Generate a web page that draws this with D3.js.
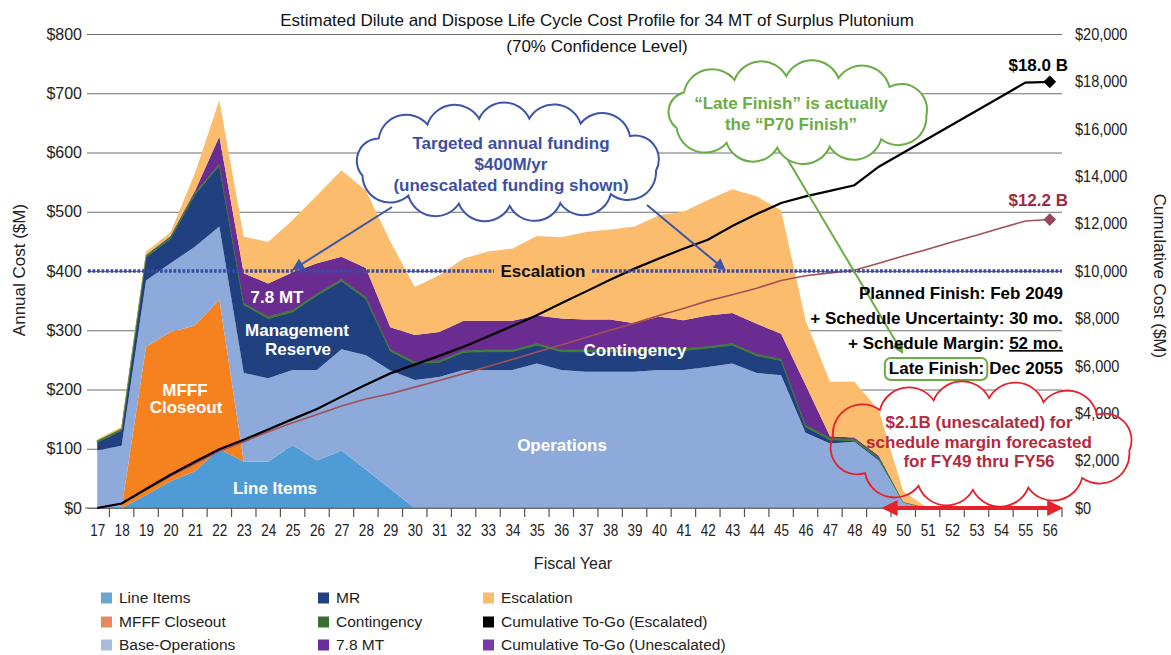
<!DOCTYPE html>
<html><head><meta charset="utf-8">
<script src="https://cdn.jsdelivr.net/npm/d3@7"></script>
<style>
body{margin:0;background:#fff;}
svg text{font-family:"Liberation Sans",Arial,Helvetica,sans-serif;}
</style></head><body>
<svg id="c" width="1171" height="655"></svg>
<script>
// ---------------- DATA ----------------
const years = ["17","18","19","20","21","22","23","24","25","26","27","28","29","30","31","32","33","34","35","36",
               "37","38","39","40","41","42","43","44","45","46","47","48","49","50","51","52","53","54","55","56"];
const lineItems   = [0,0,22,45,62,100,78,78,106,80,97,65,32,0,0,0,0,0,0,0, 0,0,0,0,0,0,0,0,0,0,0,0,0,0,0,0,0,0,0,0];
const mfffCloseout= [0,0,250,252,246,252,0,0,0,0,0,0,0,0,0,0,0,0,0,0, 0,0,0,0,0,0,0,0,0,0,0,0,0,0,0,0,0,0,0,0];
const baseOps     = [97,105,112,116,133,123,150,141,127,153,171,193,200,216,221,233,233,233,244,233,
                     230,230,230,233,233,238,244,228,224,127,109,112,80,10,0,0,0,0,0,0];
const mr          = [14,26,39,42,88,103,115,101,98,126,115,95,33,28,25,30,31,31,31,31,
                     34,34,33,36,33,32,31,29,25,10,6,2,3,0,0,0,0,0,0,0];
const contingency = [3,3,3,3,3,3,3,3,3,3,3,3,3,3,3,3,3,3,3,3, 3,3,3,3,3,3,3,3,3,3,3,3,3,0,0,0,0,0,0,0];
const mt78        = [0,0,1,1,3,46,50,56,64,51,38,49,37,45,48,50,49,49,47,53,
                     51,51,46,51,48,52,51,51,42,68,3,2,2,0,0,0,0,0,0,0];
const escalation  = [2,3,6,6,30,61,62,70,88,115,146,131,145,81,96,105,117,122,134,137,
                     148,152,163,171,183,195,209,215,208,109,92,94,77,18,0,0,0,0,0,0];
const cumEscalated   = [0,190,800,1400,1950,2480,2880,3310,3750,4180,4700,5200,5680,6050,6420,6800,7240,7680,8130,8640,
                        9130,9630,10100,10530,10940,11320,11900,12400,12870,13150,13380,13620,14400,14990,15580,16170,16760,17350,17950,17980];
const cumUnescalated = [0,185,780,1350,1880,2400,2800,3220,3600,3950,4300,4600,4820,5100,5380,5670,5970,6270,6580,6880,
                        7190,7500,7800,8120,8420,8740,9000,9270,9600,9800,9920,10030,10330,10630,10920,11220,11510,11810,12110,12170];
const leftTicks  = [0,100,200,300,400,500,600,700,800];
const rightTicks = [0,2000,4000,6000,8000,10000,12000,14000,16000,18000,20000];
const targetFunding = 400;

// ---------------- SETUP ----------------
const svg = d3.select("#c");
const X0 = 85, X1 = 1062, YB = 508, YT = 34;
const x  = d3.scalePoint().domain(years).range([X0, X1]).padding(0.5);
const y  = d3.scaleLinear().domain([0, 800]).range([YB, YT]);
const y2 = d3.scaleLinear().domain([0, 20000]).range([YB, YT]);
const FONT = '"Liberation Sans",Arial,Helvetica,sans-serif';

const defs = svg.append("defs");
function marker(id, color, w, h){
  defs.append("marker").attr("id", id).attr("viewBox","0 0 10 10").attr("refX",8).attr("refY",5)
    .attr("markerWidth", w).attr("markerHeight", h).attr("markerUnits","userSpaceOnUse")
    .attr("orient","auto-start-reverse")
    .append("path").attr("d","M0,0 L10,5 L0,10 z").attr("fill", color);
}
marker("mb","#3d55a8",14,12);
marker("mg","#6aac46",14,12);
marker("mr","#e8202a",16,16);

function cloudPath(cx,cy,rx,ry,n,rot){
  const M=720, pts=[], len=[0];
  for(let i=0;i<=M;i++){const a=rot+2*Math.PI*i/M;pts.push([cx+rx*Math.cos(a),cy+ry*Math.sin(a)]);
    if(i>0)len.push(len[i-1]+Math.hypot(pts[i][0]-pts[i-1][0],pts[i][1]-pts[i-1][1]));}
  const L=len[M], P=[];
  for(let k=0;k<n;k++){const t=L*k/n;const j=len.findIndex(v=>v>=t);P.push(pts[j]);}
  let d=`M${P[0][0]},${P[0][1]}`;
  for(let k=0;k<n;k++){const a=P[k],b=P[(k+1)%n];const c=Math.hypot(b[0]-a[0],b[1]-a[1]);const r=c*0.55;
    d+=`A${r},${r} 0 0 1 ${b[0]},${b[1]}`;}
  return d+"Z";
}

// ---------------- GRID ----------------
const gl = svg.append("g").attr("transform",`translate(87,0)`)
  .call(d3.axisLeft(y).tickValues(leftTicks).tickSize(-(X1-87)).tickPadding(5).tickFormat(d=>"$"+d));
gl.select(".domain").remove();
gl.selectAll("line").attr("stroke","#6e6e6e").attr("stroke-width",1);
gl.selectAll("text").attr("font-size",16).attr("font-family",FONT).attr("fill","#222");

// red cloud white fill under areas and right labels
const redCloud = cloudPath(981,444,150,46,12,0.15);
svg.append("path").attr("d",redCloud).attr("fill","#fff");

const gr = svg.append("g").attr("transform",`translate(${X1},0)`)
  .call(d3.axisRight(y2).tickValues(rightTicks).tickSize(0).tickPadding(13).tickFormat(d=>"$"+d3.format(",")(d)));
gr.select(".domain").remove();
gr.selectAll("text").attr("font-size",16.5).attr("font-family",FONT).attr("fill","#222")
  .attr("x", 13/0.88).attr("transform","scale(0.88,1)");

// ---------------- STACKED AREAS ----------------
const keys = ["lineItems","mfff","baseOps","mr","contingency","mt78","escalation"];
const colors = {lineItems:"#4e9bd6", mfff:"#f5821f", baseOps:"#8eaadb", mr:"#21407f",
                contingency:"#3e7b34", mt78:"#6a2c91", escalation:"#fbbd6d"};
const rows = years.map((yr,i)=>({year:yr, lineItems:lineItems[i], mfff:mfffCloseout[i], baseOps:baseOps[i],
  mr:mr[i], contingency:contingency[i], mt78:mt78[i], escalation:escalation[i]}));
const series = d3.stack().keys(keys)(rows);
const area = d3.area().x(d=>x(d.data.year)).y0(d=>y(d[0])).y1(d=>y(d[1]));
svg.append("g").selectAll("path").data(series).join("path")
  .attr("d", area).attr("fill", d=>colors[d.key])
  .attr("stroke", d=>d.key==="contingency"?colors.contingency:"none")
  .attr("stroke-width", d=>d.key==="contingency"?1:0);

// ---------------- X AXIS ----------------
svg.append("line").attr("x1",X0).attr("x2",X1).attr("y1",YB).attr("y2",YB).attr("stroke","#6e6e6e");
const step = x.step();
svg.append("g").selectAll("line").data(years).join("line")
  .attr("x1",d=>x(d)+step/2).attr("x2",d=>x(d)+step/2).attr("y1",YB).attr("y2",YB+9)
  .attr("stroke","#555").attr("stroke-width",1.2);
const gx = svg.append("g").attr("transform",`translate(0,${YB})`)
  .call(d3.axisBottom(x).tickSize(0).tickPadding(16));
gx.select(".domain").remove();
gx.selectAll("text").attr("font-size",16.5).attr("font-family",FONT).attr("fill","#222")
  .attr("transform","scale(0.82,1)");

// ---------------- CUMULATIVE LINES ----------------
const cumLine = arr => d3.line().x((d,i)=>x(years[i])).y(d=>y2(d))(arr);
svg.append("path").attr("d",cumLine(cumUnescalated)).attr("fill","none").attr("stroke","#a24f55").attr("stroke-width",1.6);
svg.append("path").attr("d",cumLine(cumEscalated)).attr("fill","none").attr("stroke","#000").attr("stroke-width",2.2);
const last = years.length-1;
svg.append("path").attr("d",d3.symbol(d3.symbolSquare,80)())
  .attr("transform",`translate(${x(years[last])},${y2(cumEscalated[last])}) rotate(45)`).attr("fill","#000");
svg.append("path").attr("d",d3.symbol(d3.symbolSquare,80)())
  .attr("transform",`translate(${x(years[last])},${y2(cumUnescalated[last])}) rotate(45)`).attr("fill","#98475a");

// ---------------- TARGET FUNDING DOTTED LINE ----------------
const yT = y(targetFunding);
[[88,494],[592,X1]].forEach(([a,b])=>{
  svg.append("line").attr("x1",a).attr("x2",b).attr("y1",yT).attr("y2",yT)
    .attr("stroke","#3b4ba4").attr("stroke-width",3.5).attr("stroke-dasharray","2.8,1.7");
});
svg.append("text").attr("x",543).attr("y",yT).attr("dy","0.35em").attr("text-anchor","middle")
  .attr("font-size",17).attr("font-weight","bold").attr("fill","#111").text("Escalation");

// ---------------- IN-CHART LABELS ----------------
const inLabels = [
  ["7.8 MT",277,297],["Management",297,330],["Reserve",298,349],
  ["MFFF",185,390],["Closeout",186,407],["Line Items",275,488],
  ["Contingency",635,350],["Operations",562,445]
];
svg.append("g").selectAll("text").data(inLabels).join("text")
  .attr("x",d=>d[1]).attr("y",d=>d[2]).attr("dy","0.35em").attr("text-anchor","middle")
  .attr("font-size",17).attr("font-weight","bold").attr("fill","#fff").text(d=>d[0]);

// ---------------- TITLES ----------------
svg.append("text").attr("x",597).attr("y",20).attr("dy","0.35em").attr("text-anchor","middle")
  .attr("font-size",17).attr("fill","#111").text("Estimated Dilute and Dispose Life Cycle Cost Profile for 34 MT of Surplus Plutonium");
svg.append("text").attr("x",597).attr("y",46).attr("dy","0.35em").attr("text-anchor","middle")
  .attr("font-size",17).attr("fill","#111").text("(70% Confidence Level)");
svg.append("text").attr("transform","translate(19,270) rotate(-90)").attr("dy","0.35em").attr("text-anchor","middle")
  .attr("font-size",17).attr("fill","#222").text("Annual Cost ($M)");
svg.append("text").attr("transform","translate(1160,276) rotate(90)").attr("dy","0.35em").attr("text-anchor","middle")
  .attr("font-size",17).attr("fill","#222").text("Cumulative Cost ($M)");
svg.append("text").attr("x",573).attr("y",563).attr("dy","0.35em").attr("text-anchor","middle")
  .attr("font-size",16).attr("fill","#222").text("Fiscal Year");

// totals
svg.append("text").attr("x",1068).attr("y",65).attr("dy","0.35em").attr("text-anchor","end")
  .attr("font-size",17).attr("font-weight","bold").attr("fill","#000").text("$18.0 B");
svg.append("text").attr("x",1068).attr("y",200).attr("dy","0.35em").attr("text-anchor","end")
  .attr("font-size",17).attr("font-weight","bold").attr("fill","#a3283f").text("$12.2 B");

// ---------------- BLUE CLOUD ----------------
svg.append("path").attr("d",cloudPath(507,162,152,44,13,0.2)).attr("fill","#fff").attr("stroke","#3d55a8").attr("stroke-width",2);
[["Targeted annual funding",143],["$400M/yr",164],["(unescalated funding shown)",185]].forEach(([t,yy])=>{
  svg.append("text").attr("x",511).attr("y",yy).attr("dy","0.35em").attr("text-anchor","middle")
    .attr("font-size",17).attr("font-weight","bold").attr("fill","#3d4fa3").text(t);
});
svg.append("line").attr("x1",392).attr("y1",207).attr("x2",294).attr("y2",269)
  .attr("stroke","#3d55a8").attr("stroke-width",2).attr("marker-end","url(#mb)");
svg.append("line").attr("x1",647).attr("y1",205).attr("x2",724).attr("y2",269)
  .attr("stroke","#3d55a8").attr("stroke-width",2).attr("marker-end","url(#mb)");

// ---------------- GREEN CLOUD ----------------
svg.append("line").attr("x1",782).attr("y1",150).attr("x2",902).attr("y2",352)
  .attr("stroke","#6aac46").attr("stroke-width",2).attr("marker-end","url(#mg)");
svg.append("path").attr("d",cloudPath(795,112,132,36,11,0.1)).attr("fill","#fff").attr("stroke","#6aac46").attr("stroke-width",2);
[["\u201CLate Finish\u201D is actually",103],["the \u201CP70 Finish\u201D",124]].forEach(([t,yy])=>{
  svg.append("text").attr("x",791).attr("y",yy).attr("dy","0.35em").attr("text-anchor","middle")
    .attr("font-size",17).attr("font-weight","bold").attr("fill","#6aac46").text(t);
});

// ---------------- SCHEDULE TEXT BLOCK ----------------
const RX = 1063;
svg.append("text").attr("x",RX).attr("y",293).attr("dy","0.35em").attr("text-anchor","end")
  .attr("font-size",17).attr("font-weight","bold").attr("fill","#000").text("Planned Finish: Feb 2049");
svg.append("text").attr("x",RX).attr("y",318).attr("dy","0.35em").attr("text-anchor","end")
  .attr("font-size",17).attr("font-weight","bold").attr("fill","#000").text("+ Schedule Uncertainty: 30 mo.");
const sm = svg.append("text").attr("x",RX).attr("y",343).attr("dy","0.35em").attr("text-anchor","end")
  .attr("font-size",17).attr("font-weight","bold").attr("fill","#000");
sm.append("tspan").text("+ Schedule Margin: ");
sm.append("tspan").attr("text-decoration","underline").text("52 mo.");
const dec = svg.append("text").attr("x",RX).attr("y",368).attr("dy","0.35em").attr("text-anchor","end")
  .attr("font-size",17).attr("font-weight","bold").attr("fill","#000").text("Dec 2055");
const wDec = dec.node().getComputedTextLength();
const lf = svg.append("text").attr("x",RX-wDec-5).attr("y",368).attr("dy","0.35em").attr("text-anchor","end")
  .attr("font-size",17).attr("font-weight","bold").attr("fill","#000").text("Late Finish:");
const bb = lf.node().getBBox();
svg.append("rect").attr("x",bb.x-4).attr("y",bb.y-1).attr("width",bb.width+7).attr("height",bb.height+3)
  .attr("rx",6).attr("fill","none").attr("stroke","#6aac46").attr("stroke-width",2);

// ---------------- RED CLOUD ----------------
svg.append("path").attr("d",redCloud).attr("fill","none").attr("stroke","#e8202a").attr("stroke-width",1.8);
[["$2.1B (unescalated) for",422],["schedule margin forecasted",442],["for FY49 thru FY56",461]].forEach(([t,yy])=>{
  svg.append("text").attr("x",979).attr("y",yy).attr("dy","0.35em").attr("text-anchor","middle")
    .attr("font-size",17).attr("font-weight","bold").attr("fill","#b42a3c").text(t);
});
svg.append("line").attr("x1",x("49")+6).attr("x2",X1-2).attr("y1",YB).attr("y2",YB)
  .attr("stroke","#e8202a").attr("stroke-width",4)
  .attr("marker-start","url(#mr)").attr("marker-end","url(#mr)");

// ---------------- LEGEND ----------------
const legend = [
  ["Line Items","#6aa6d4",101,598],["MFFF Closeout","#e9885c",101,622],["Base-Operations","#a9bcd9",101,645],
  ["MR","#23407e",318,598],["Contingency","#3b6e35",318,622],["7.8 MT","#6a2d9e",318,645],
  ["Escalation","#f8be6c",483,598],["Cumulative To-Go (Escalated)","#000",483,622],["Cumulative To-Go (Unescalated)","#7b3aa8",483,645]
];
const lg = svg.append("g").selectAll("g").data(legend).join("g");
lg.append("rect").attr("x",d=>d[2]).attr("y",d=>d[3]-5.5).attr("width",11).attr("height",11).attr("fill",d=>d[1]);
lg.append("text").attr("x",d=>d[2]+18).attr("y",d=>d[3]).attr("dy","0.35em")
  .attr("font-size",15.5).attr("fill","#222").text(d=>d[0]);
</script>
</body></html>
